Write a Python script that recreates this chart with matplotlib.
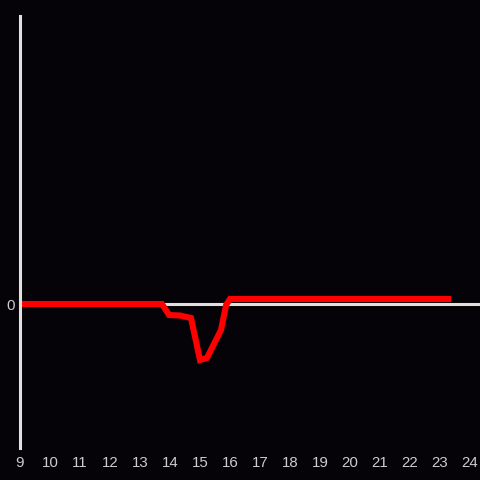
import matplotlib
matplotlib.use("Agg")
import matplotlib.pyplot as plt

# time of day (hours) and deviation (arbitrary units)
hours = [9, 13.73, 13.97, 14.33, 14.7, 15.0, 15.23, 15.7, 15.87, 16.0, 23.27]
values = [0, 0, -1.1, -1.15, -1.4, -5.6, -5.4, -2.6, -0.1, 0.5, 0.5]
x_ticks = list(range(9, 25))

bg = "#050307"
grey = "#e0e0e0"

fig = plt.figure(figsize=(4.8, 4.8), dpi=100, facecolor=bg)
ax = fig.add_axes([20 / 480, 32 / 480, 460 / 480, 432 / 480])
ax.set_facecolor(bg)

ax.axhline(0, color=grey, lw=2.2, zorder=1)
ax.plot(hours, values, color="#ff0000", lw=4.4, solid_joinstyle="miter", zorder=2)

ax.set_xlim(9, 24.333)
ax.set_ylim(-14.4, 28.8)
ax.set_xticks(x_ticks)
ax.set_yticks([0])

for s in ["top", "right", "bottom"]:
    ax.spines[s].set_visible(False)
ax.spines["left"].set_color(grey)
ax.spines["left"].set_linewidth(2.2)
ax.spines["left"].set_zorder(3)

ax.tick_params(length=0, colors="#cccccc", labelsize=10.8, pad=6)
ax.tick_params(axis="y", pad=4)
for lab in ax.get_xticklabels() + ax.get_yticklabels():
    lab.set_family("Liberation Sans")

fig.savefig("out.png", dpi=100, facecolor=bg)
